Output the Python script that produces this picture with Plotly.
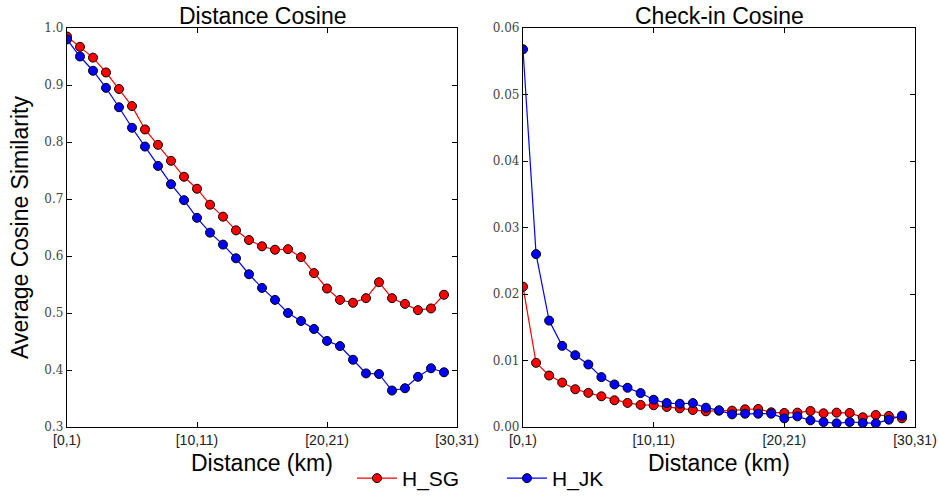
import plotly.graph_objects as go

# distance bins in km: [0,1), [1,2), ... [29,30)
bins = list(range(30))
tick_pos = [0, 10, 20, 30]
tick_text = ["[0,1)", "[10,11)", "[20,21)", "[30,31)"]

# average cosine similarity of distance profiles
dist_sg = [0.985, 0.967, 0.948, 0.922, 0.893, 0.863, 0.822, 0.795, 0.767, 0.739,
           0.718, 0.690, 0.669, 0.645, 0.628, 0.617, 0.611, 0.612, 0.598, 0.570,
           0.543, 0.523, 0.518, 0.526, 0.554, 0.526, 0.516, 0.505, 0.508, 0.532]
dist_jk = [0.980, 0.950, 0.925, 0.895, 0.861, 0.825, 0.792, 0.758, 0.726, 0.698,
           0.667, 0.641, 0.620, 0.596, 0.568, 0.544, 0.523, 0.500, 0.486, 0.472,
           0.451, 0.442, 0.418, 0.394, 0.393, 0.364, 0.368, 0.388, 0.403, 0.396]

# average cosine similarity of check-in profiles
chk_sg = [0.0211, 0.00965, 0.00774, 0.00668, 0.00568, 0.00513, 0.00462, 0.00402, 0.00362, 0.00332,
          0.00327, 0.00302, 0.00281, 0.00256, 0.00236, 0.00246, 0.00246, 0.00266, 0.00271, 0.00221,
          0.00211, 0.00216, 0.00241, 0.00206, 0.00216, 0.00211, 0.00146, 0.00181, 0.00166, 0.00131]
chk_jk = [0.0568, 0.0260, 0.0160, 0.0122, 0.0108, 0.0094, 0.0075, 0.0064, 0.0059, 0.0051,
          0.0041, 0.0036, 0.0035, 0.0036, 0.0029, 0.0025, 0.0019, 0.0020, 0.0020, 0.0020,
          0.0013, 0.0016, 0.0010, 0.00075, 0.00055, 0.00075, 0.0006, 0.00055, 0.0011, 0.0017]

SANS = "Liberation Sans, Arial, sans-serif"
SERIF = "DejaVu Serif, serif"


def series(x, y, name, color, xa, ya, show):
    return go.Scatter(
        x=x, y=y, name=name, mode="lines+markers",
        line=dict(color=color, width=1.2),
        marker=dict(color=color, size=9, line=dict(color="black", width=1)),
        xaxis=xa, yaxis=ya, showlegend=show, legendgroup=name,
    )


fig = go.Figure()
fig.add_trace(series(bins, dist_sg, "H_SG", "#ff0000", "x", "y", True))
fig.add_trace(series(bins, dist_jk, "H_JK", "#0000ff", "x", "y", True))
fig.add_trace(series(bins, chk_sg, "H_SG", "#ff0000", "x2", "y2", False))
fig.add_trace(series(bins, chk_jk, "H_JK", "#0000ff", "x2", "y2", False))

common_x = dict(
    range=[0, 30], tickmode="array", tickvals=tick_pos, ticktext=tick_text,
    ticks="inside", ticklen=5, tickwidth=1, tickcolor="black",
    showline=True, linecolor="black", linewidth=1.3, mirror="ticks",
    showgrid=False, zeroline=False, automargin=False,
    tickfont=dict(family=SANS, size=14, color="#222"),
)
common_y = dict(
    ticks="inside", ticklen=5, tickwidth=1, tickcolor="black",
    showline=True, linecolor="black", linewidth=1.3, mirror="ticks",
    showgrid=False, zeroline=False, automargin=False,
    tickfont=dict(family=SERIF, size=12, color="#444"),
)

y_dom = [1 - 427 / 499, 1 - 28 / 499]
fig.update_layout(
    width=939, height=499,
    margin=dict(l=0, r=0, t=0, b=0, autoexpand=False),
    paper_bgcolor="white", plot_bgcolor="white",
    xaxis=dict(domain=[67 / 939, 457 / 939], anchor="y", **common_x),
    yaxis=dict(domain=y_dom, anchor="x", range=[0.3, 1.0], dtick=0.1,
               tickformat=".1f", **common_y),
    xaxis2=dict(domain=[523 / 939, 915 / 939], anchor="y2", **common_x),
    yaxis2=dict(domain=y_dom, anchor="x2", range=[0, 0.06], dtick=0.01,
                tickformat=".2f", **common_y),
    legend=dict(orientation="h", x=352 / 939, xanchor="left", y=0.0, yanchor="bottom",
                font=dict(family=SANS, size=21, color="black"),
                bgcolor="rgba(0,0,0,0)", itemwidth=40,
                entrywidth=95, entrywidthmode="pixels"),
    showlegend=True,
)

annos = [
    dict(text="Distance Cosine", x=262 / 939, y=1 - 16 / 499, size=23, angle=0),
    dict(text="Check-in Cosine", x=719 / 939, y=1 - 16 / 499, size=23, angle=0),
    dict(text="Distance (km)", x=262 / 939, y=1 - 463 / 499, size=23, angle=0),
    dict(text="Distance (km)", x=719 / 939, y=1 - 463 / 499, size=23, angle=0),
    dict(text="Average Cosine Similarity", x=20 / 939, y=1 - 228 / 499, size=23, angle=-90),
]
for a in annos:
    fig.add_annotation(
        text=a["text"], x=a["x"], y=a["y"], xref="paper", yref="paper",
        xanchor="center", yanchor="middle", showarrow=False, textangle=a["angle"],
        font=dict(family=SANS, size=a["size"], color="black"),
    )

fig.write_html("out.html")
